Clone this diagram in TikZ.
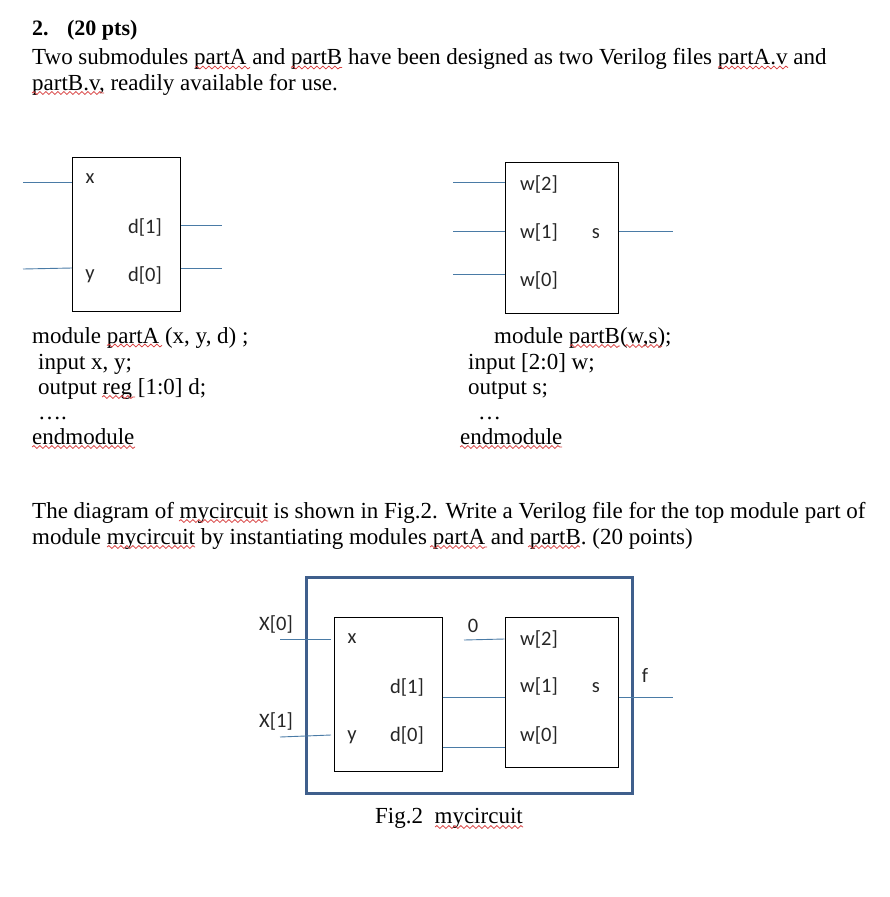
\documentclass[tikz,border=0pt]{standalone}
\usepackage{fontspec}
\setmainfont{Liberation Serif}
\newfontfamily\pinfont{Carlito}
\usetikzlibrary{decorations.pathmorphing}
\definecolor{wirecol}{HTML}{4A7BA6}
\definecolor{framecol}{HTML}{3F5F8C}
\definecolor{squigcol}{HTML}{D84040}
\tikzset{
  para/.style={anchor=base west,inner sep=0pt,font=\fontsize{23}{26}\selectfont},
  pin/.style={anchor=base,inner sep=0pt,font=\pinfont\fontsize{20.5}{22}\selectfont,text=black!85},
  blockbox/.style={draw=black,line width=1pt,fill=none,inner sep=0pt},
  wire/.style={draw=wirecol,line width=0.9pt},
  squig/.style={draw=squigcol,line width=0.8pt,decorate,decoration={snake,amplitude=1.4pt,segment length=6pt}}
}
\newcommand{\squigline}[3]{\draw[squig] (#1,#3) -- (#2,#3);}
\begin{document}
\begin{tikzpicture}[x=1pt,y=-1pt]
  \useasboundingbox (0,0) rectangle (889,897);
  % text at the top
  \node[para,font=\bfseries\fontsize{22}{24}\selectfont] (head) at (32,35) {2.\hspace{0.84em}(20 pts)};
  \node[para] (introa) at (32,64.5) {Two submodules partA and partB have been designed as two Verilog files partA.v and};
  \node[para] (introb) at (32,90) {partB.v, readily available for use.};
  \squigline{195}{250}{67.5}
  \squigline{291}{342}{67.5}
  \squigline{718}{788}{67.5}
  \squigline{32}{104}{93}
  % submodule A
  \node[blockbox,minimum width=108,minimum height=154] (partA) at (126.5,234) {};
  \node[pin] (ax) at (90,183) {x};
  \node[pin] (ay) at (90,279) {y};
  \node[pin] (adb) at (145,233) {d[1]};
  \node[pin] (adc) at (145,281) {d[0]};
  \coordinate (ainx) at (23,182);
  \coordinate (ainy) at (23,269);
  \coordinate (aoutb) at (222,225);
  \coordinate (aoutc) at (222,268);
  \draw[wire] (ainx) -- (ainx -| partA.west);
  \draw[wire] (ainy) -- (partA.west |- 0,268);
  \draw[wire] (partA.east |- aoutb) -- (aoutb);
  \draw[wire] (partA.east |- aoutc) -- (aoutc);
  % submodule B
  \node[blockbox,minimum width=113,minimum height=151] (partB) at (561.5,237.5) {};
  \node[pin] (bwc) at (539,190) {w[2]};
  \node[pin] (bwb) at (539,238) {w[1]};
  \node[pin] (bwa) at (539,286) {w[0]};
  \node[pin] (bs) at (596,238) {s};
  \coordinate (binc) at (453,182);
  \coordinate (binb) at (453,231);
  \coordinate (bina) at (453,274);
  \coordinate (bout) at (673,231);
  \draw[wire] (binc) -- (binc -| partB.west);
  \draw[wire] (binb) -- (binb -| partB.west);
  \draw[wire] (bina) -- (bina -| partB.west);
  \draw[wire] (partB.east |- bout) -- (bout);
  % module listings
  \node[para] (la) at (32,343) {module partA (x, y, d) ;};
  \node[para] (lb) at (38,369) {input x, y;};
  \node[para] (lc) at (38,394) {output reg [1:0] d;};
  \node[para] (ld) at (38,419) {….};
  \node[para] (le) at (32,444.5) {endmodule};
  \squigline{107}{162}{345.5}
  \squigline{102}{135}{397}
  \squigline{32}{135}{447}
  \node[para] (ra) at (494,343) {module partB(w,s);};
  \node[para] (rb) at (468,369) {input [2:0] w;};
  \node[para] (rc) at (468,394) {output s;};
  \node[para] (rd) at (478,419) {…};
  \node[para] (re) at (460,444.5) {endmodule};
  \squigline{570}{620}{346}
  \squigline{625}{662}{346}
  \squigline{460}{562}{447}
  % question
  \node[para] (qa) at (32,518.5) {The diagram of mycircuit is shown in Fig.2. Write a Verilog file for the top module part of};
  \node[para] (qb) at (32,544.5) {module mycircuit by instantiating modules partA and partB. (20 points)};
  \squigline{179}{268}{521}
  \squigline{107}{195}{547}
  \squigline{430}{487}{547}
  \squigline{528}{580}{547}
  % mycircuit
  \node[draw=framecol,line width=3pt,minimum width=326,minimum height=216,inner sep=0pt] (frame) at (469,685) {};
  \node[blockbox,minimum width=108,minimum height=154] (topA) at (388,694) {};
  \node[blockbox,minimum width=113,minimum height=150] (topB) at (561.5,692) {};
  \node[pin] (nx) at (352,643) {x};
  \node[pin] (ny) at (352,740) {y};
  \node[pin] (ndb) at (407,693) {d[1]};
  \node[pin] (ndc) at (407,741) {d[0]};
  \node[pin] (nwc) at (539,645) {w[2]};
  \node[pin] (nwb) at (539,692) {w[1]};
  \node[pin] (nwa) at (539,741) {w[0]};
  \node[pin] (ns) at (596,692) {s};
  \node[pin] (xa) at (276,630) {X[0]};
  \node[pin] (xb) at (276,727) {X[1]};
  \node[pin] (zero) at (473,632) {0};
  \node[pin] (fout) at (645,682) {f};
  \coordinate (ina) at (280,639);
  \coordinate (inb) at (280,737);
  \coordinate (enda) at (331,639);
  \coordinate (endb) at (331,735);
  \coordinate (zin) at (464,640);
  \coordinate (outf) at (673,697);
  \draw[wire] (ina) -- (enda);
  \draw[wire] (inb) -- (endb);
  \draw[wire] (zin) -- (topB.west |- 0,639);
  \draw[wire] (topA.east |- outf) -- (topB.west |- outf);
  \draw[wire] (topA.east |- 0,747) -- (topB.west |- 0,747);
  \draw[wire] (topB.east |- outf) -- (outf);
  \node[para] (figcap) at (375,823) {Fig.2\ \ mycircuit};
  \squigline{435}{523}{827}
\end{tikzpicture}
\end{document}
